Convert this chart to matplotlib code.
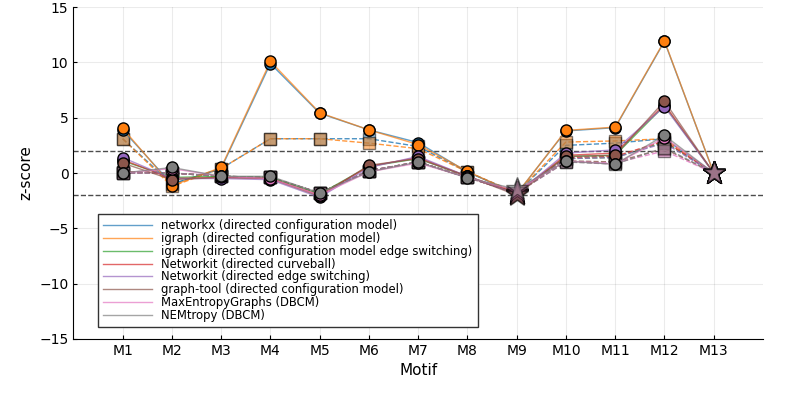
import numpy as np
import matplotlib
matplotlib.use("Agg")
import matplotlib.pyplot as plt

plt.rcParams['font.family'] = ['DejaVu Sans']

motifs = ["M1", "M2", "M3", "M4", "M5", "M6", "M7", "M8", "M9", "M10", "M11", "M12", "M13"]
star_motifs = ["M9", "M13"]

labels = [
    "networkx (directed configuration model)",
    "igraph (directed configuration model)",
    "igraph (directed configuration model edge switching)",
    "Networkit (directed curveball)",
    "Networkit (directed edge switching)",
    "graph-tool (directed configuration model)",
    "MaxEntropyGraphs (DBCM)",
    "NEMtropy (DBCM)",
]
colors = ["#1f77b4", "#ff7f0e", "#2ca02c", "#d62728", "#9467bd", "#8c564b", "#e377c2", "#7f7f7f"]

# z-scores, first network (solid line, circles)
z_solid = [
    [3.9, -1.0, 0.4, 9.9, 5.4, 3.9, 2.75, 0.1, -1.9, 3.8, 4.1, 11.9, 0.0],
    [4.05, -1.15, 0.5, 10.1, 5.45, 3.9, 2.57, 0.15, -1.9, 3.85, 4.15, 11.96, 0.0],
    [1.1, -0.4, -0.3, -0.4, -1.9, 0.6, 1.3, -0.3, -1.8, 1.5, 1.6, 6.1, 0.0],
    [1.2, -0.5, -0.4, -0.5, -2.0, 0.6, 1.4, -0.3, -1.8, 1.6, 1.8, 6.2, 0.0],
    [1.4, -0.5, -0.5, -0.6, -2.2, 0.5, 1.5, -0.3, -1.9, 1.8, 2.1, 6.0, 0.0],
    [0.9, -0.6, -0.4, -0.5, -2.1, 0.7, 1.3, -0.3, -2.0, 1.5, 1.6, 6.5, 0.0],
    [0.0, 0.4, -0.3, -0.5, -2.0, 0.1, 0.9, -0.4, -1.6, 1.1, 0.8, 3.2, 0.0],
    [0.0, 0.5, -0.3, -0.3, -1.8, 0.1, 1.0, -0.45, -1.45, 1.06, 0.8, 3.4, 0.0],
]

# z-scores, second network (dashed line, squares)
z_dashed = [
    [3.1, -1.0, 0.4, 3.1, 3.1, 3.1, 2.4, 0.1, -1.8, 2.5, 2.7, 3.1, 0.0],
    [3.1, -1.2, 0.4, 3.1, 3.1, 2.7, 2.2, 0.1, -1.8, 2.8, 2.9, 3.1, 0.0],
    [0.1, 0.0, -0.3, -0.4, -1.8, 0.2, 1.0, -0.4, -1.8, 1.3, 1.4, 2.8, 0.0],
    [0.1, 0.0, -0.3, -0.4, -1.8, 0.2, 1.0, -0.4, -1.8, 1.4, 1.5, 2.9, 0.0],
    [0.0, 0.0, -0.3, -0.4, -1.8, 0.2, 1.0, -0.4, -1.8, 1.3, 1.4, 2.7, 0.0],
    [0.0, 0.0, -0.3, -0.4, -1.8, 0.2, 1.0, -0.4, -1.8, 1.1, 1.0, 2.2, 0.0],
    [0.0, 0.0, -0.3, -0.4, -1.8, 0.2, 1.0, -0.4, -1.8, 1.0, 0.9, 2.0, 0.0],
    [0.0, 0.0, -0.3, -0.4, -1.8, 0.2, 1.0, -0.4, -1.8, 1.0, 0.8, 2.3, 0.0],
]

fig, ax = plt.subplots(figsize=(7.89, 3.95), dpi=100)
fig.subplots_adjust(left=0.093, right=0.967, top=0.982, bottom=0.142)

x = np.arange(1, len(motifs) + 1)
is_star = np.array([m in star_motifs for m in motifs])

ax.axhline(1.96, color="k", ls="--", lw=1, alpha=0.7, zorder=1)
ax.axhline(-1.96, color="k", ls="--", lw=1, alpha=0.7, zorder=1)

# dashed series first, solid on top
for i in range(len(labels)):
    y = np.array(z_dashed[i])
    ax.plot(x, y, color=colors[i], ls="--", lw=1, alpha=0.8, zorder=2)
    ax.plot(x[~is_star], y[~is_star], ls="none", marker="s", ms=9, mfc=colors[i],
            mec="k", mew=1, alpha=0.5, zorder=3)
    ax.plot(x[is_star], y[is_star], ls="none", marker="*", ms=17, mfc=colors[i],
            mec="k", mew=1, alpha=0.5, zorder=3)

for i in range(len(labels)):
    y = np.array(z_solid[i])
    ax.plot(x, y, color=colors[i], ls="-", lw=1, alpha=0.7, zorder=4, label=labels[i])
    ax.plot(x[~is_star], y[~is_star], ls="none", marker="o", ms=8, mfc=colors[i],
            mec="k", mew=1, zorder=5)
    ax.plot(x[is_star], y[is_star], ls="none", marker="*", ms=17, mfc=colors[i],
            mec="k", mew=1, alpha=0.5, zorder=5)

ax.set_xlim(0, 14)
ax.set_ylim(-15, 15)
ax.set_xticks(x)
ax.set_xticklabels(motifs)
ax.set_yticks([-15, -10, -5, 0, 5, 10, 15])
ax.tick_params(direction="in", labelsize=10, length=3)
ax.grid(True, color="k", alpha=0.08, lw=0.8)
ax.spines["top"].set_visible(False)
ax.spines["right"].set_visible(False)
ax.set_xlabel("Motif", fontsize=11)
ax.set_ylabel("z-score", fontsize=11)

leg = ax.legend(loc="lower left", bbox_to_anchor=(0.035, 0.036), borderaxespad=0,
                fontsize=8.4, handlelength=4.2, labelspacing=-0.02, borderpad=0.45,
                fancybox=False, framealpha=1, edgecolor="#333333")
leg.get_frame().set_linewidth(1)

fig.savefig("out.png", dpi=100)
